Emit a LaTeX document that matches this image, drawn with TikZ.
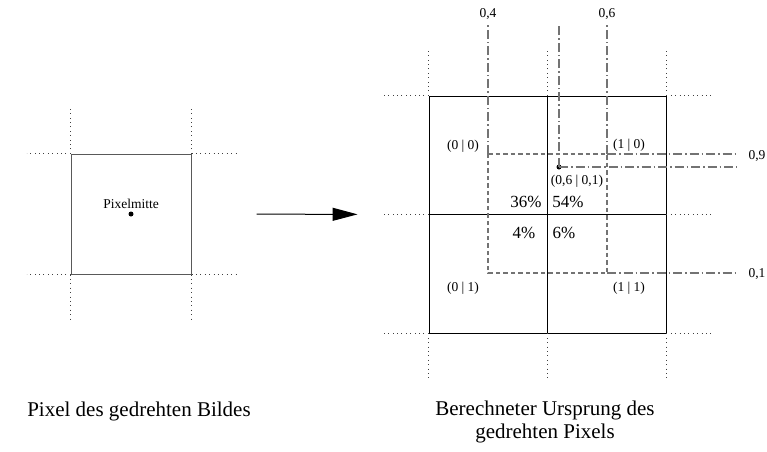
\documentclass[tikz,border=0pt]{standalone}
\usepackage{fontspec}
\setmainfont{Liberation Serif}
\usetikzlibrary{arrows.meta}
\begin{document}
\begin{tikzpicture}[x=1pt,y=-1pt,
  dotline/.style={line width=0.8pt, black!75, dash pattern=on 0.8pt off 3.6pt},
  dashline/.style={line width=1.1pt, black!55, dash pattern=on 4.5pt off 3pt},
  dashdotline/.style={line width=1.1pt, black!55, dash pattern=on 9pt off 3pt on 1.5pt off 3pt},
  gridline/.style={line width=0.9pt, black},
  smalllbl/.style={font=\fontsize{13.5}{15}\selectfont, inner sep=0pt},
  pctlbl/.style={font=\fontsize{17}{19}\selectfont, inner sep=0pt},
  caplbl/.style={font=\fontsize{21}{23}\selectfont, inner sep=0pt, align=center},
  dotmark/.style={circle, fill=black, inner sep=0pt, minimum size=5pt}
]
\useasboundingbox (0,0) rectangle (767,451);

% ---- left pixel ----
\node[draw=black!65, line width=1pt, minimum size=120pt, inner sep=0pt] (pix) at (131,214) {};
\draw[dotline] (pix.north west) -- ++(-44,0);
\draw[dotline] (pix.north west) -- ++(0,-45);
\draw[dotline] (pix.north east) -- ++(45,0);
\draw[dotline] (pix.north east) -- ++(0,-45);
\draw[dotline] (pix.south west) -- ++(-44,0);
\draw[dotline] (pix.south west) -- ++(0,45);
\draw[dotline] (pix.south east) -- ++(45,0);
\draw[dotline] (pix.south east) -- ++(0,45);
\node[smalllbl] (mittelbl) at (131,204) {Pixelmitte};
\node[dotmark] (mitte) at (131,214) {};

% ---- right grid ----
\node[draw, gridline, minimum size=237pt, inner sep=0pt] (grid) at (547.5,214.5) {};
\draw[gridline] (grid.north) -- (grid.south);
\draw[gridline] (grid.west) -- (grid.east);
\foreach \a in {north west, west, south west}{
  \draw[dotline] (grid.\a) -- ++(-45,0);}
\foreach \a in {north east, east, south east}{
  \draw[dotline] (grid.\a) -- ++(46,0);}
\foreach \a in {north west, north, north east}{
  \draw[dotline] (grid.\a) -- ++(0,-46);}
\foreach \a in {south west, south, south east}{
  \draw[dotline] (grid.\a) -- ++(0,46);}

% ---- arrow ----
\draw[line width=1pt, -{Triangle[length=25pt,width=13pt]}, shorten <=65pt, shorten >=71pt] (pix.east) -- (grid.west);

% ---- rotated pixel (dashed square) ----
\coordinate (dtl) at (488,154);
\coordinate (dtr) at (607,154);
\coordinate (dbl) at (488,273);
\coordinate (dbr) at (607,273);
\draw[dashline] (dtl) -- (dtr) -- (dbr) -- (dbl) -- cycle;
\coordinate (top4) at (488,25);
\coordinate (top6) at (607,25);
\coordinate (rt9) at (737,154);
\coordinate (rt1) at (737,273);
\draw[dashdotline] (dtl) -- (top4);
\draw[dashdotline] (dtr) -- (top6);
\draw[dashdotline] (dtr) -- (rt9);
\draw[dashdotline] (dbr) -- (rt1);

% ---- computed origin ----
\node[dotmark] (orig) at (559,167) {};
\coordinate (origtop) at (559,24);
\coordinate (origrt) at (737,167);
\draw[dashdotline] (orig.center) -- (origtop);
\draw[dashdotline] (orig.center) -- (origrt);

% ---- labels ----
\node[smalllbl] (l04) at (488,14) {0,4};
\node[smalllbl] (l06) at (607,14) {0,6};
\node[smalllbl] (l09) at (757,156) {0,9};
\node[smalllbl] (l01) at (757,274) {0,1};
\node[smalllbl] (c00) at (463,146) {(0 | 0)};
\node[smalllbl] (c10) at (629,145) {(1 | 0)};
\node[smalllbl] (c01) at (463,288) {(0 | 1)};
\node[smalllbl] (c11) at (629,288) {(1 | 1)};
\node[smalllbl] (origlbl) at (577,181) {(0,6 | 0,1)};
\node[pctlbl] (p36) at (526,202) {36\%};
\node[pctlbl] (p54) at (568,202) {54\%};
\node[pctlbl] (p4) at (524,233) {4\%};
\node[pctlbl] (p6) at (564,233) {6\%};

% ---- captions ----
\node[caplbl] (capl) at (139,411) {Pixel des gedrehten Bildes};
\node[caplbl] (capr) at (545,422) {Berechneter Ursprung des\\gedrehten Pixels};
\end{tikzpicture}
\end{document}
